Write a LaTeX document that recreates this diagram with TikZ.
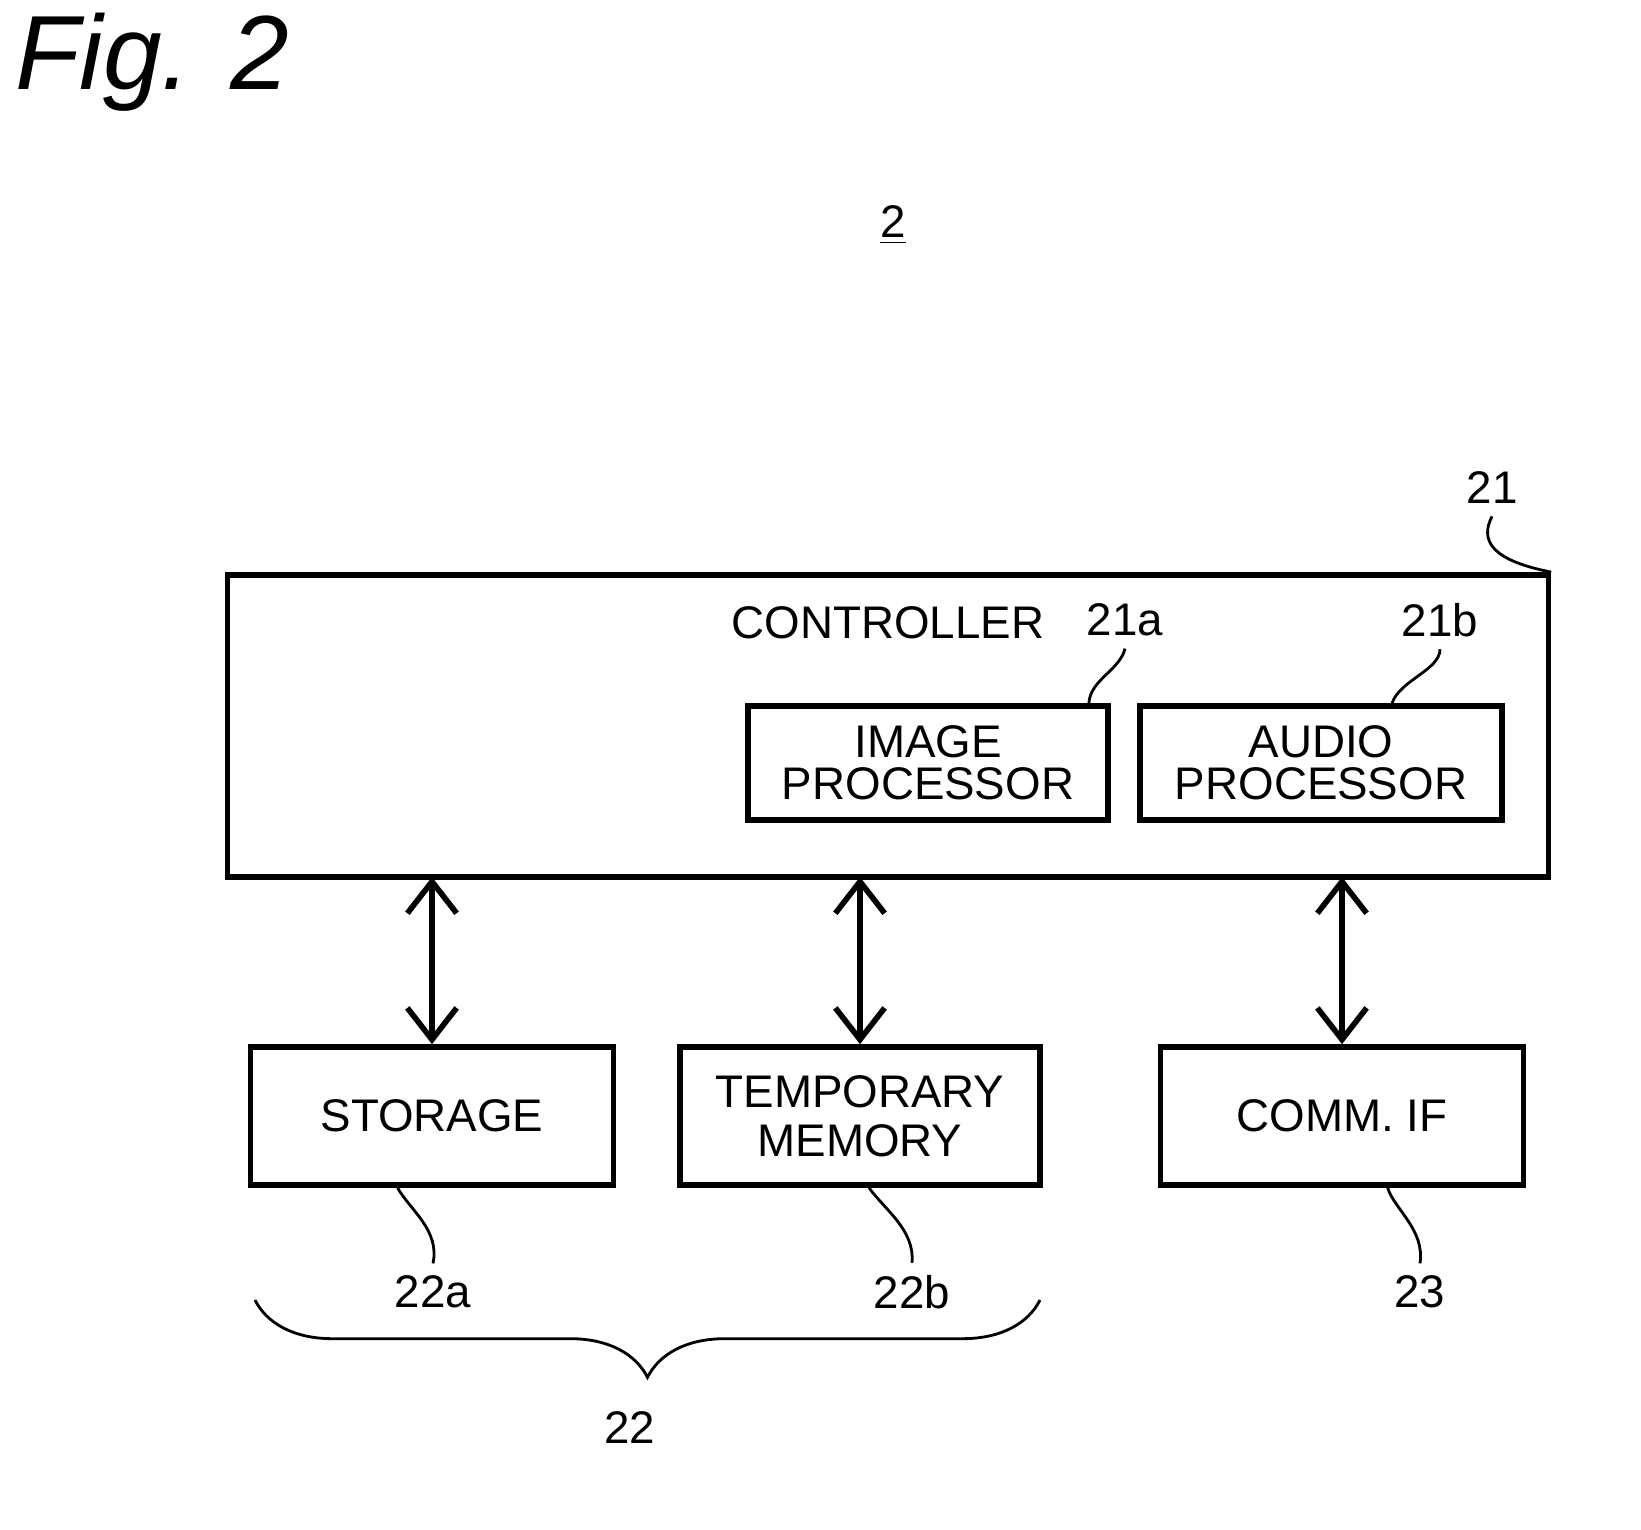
\documentclass[tikz,border=0pt]{standalone}
\usepackage{fontspec}
\setmainfont{Liberation Sans}
\usetikzlibrary{arrows.meta,calc,decorations.pathreplacing}
\begin{document}
\begin{tikzpicture}[x=0.01cm,y=-0.01cm,
  blk/.style={draw,line width=1.6pt,inner sep=0pt,align=center,font=\fontsize{13}{15}\selectfont},
  lbl/.style={font=\fontsize{13}{15}\selectfont},
  lead/.style={line width=0.8pt},
  bus/.style={line width=1.6pt,{Straight Barb[length=9pt,width=14pt,line width=1.6pt]}-{Straight Barb[length=9pt,width=14pt,line width=1.6pt]}}]
\useasboundingbox (0,0) rectangle (1641,1530);
\node[font=\itshape\fontsize{30}{33}\selectfont] (fig) at (152,62) {Fig. 2};
\node[lbl] (dev) at (893,225) {\underline{2}};
% controller
\node[blk,minimum width=13.20cm,minimum height=3.02cm] (ctrl) at (888,726) {};
\node[lbl] (ctrltxt) at (888,623) {CONTROLLER};
\node[blk,minimum width=3.60cm,minimum height=1.14cm] (img) at (928,763) {IMAGE\\[-3pt]PROCESSOR};
\node[blk,minimum width=3.62cm,minimum height=1.14cm] (aud) at (1321,763) {AUDIO\\[-3pt]PROCESSOR};
% lower blocks
\node[blk,minimum width=3.63cm,minimum height=1.38cm] (stor) at (432,1116) {STORAGE};
\node[blk,minimum width=3.60cm,minimum height=1.38cm] (tmp) at (860,1116) {TEMPORARY\\[-1pt]MEMORY};
\node[blk,minimum width=3.63cm,minimum height=1.38cm] (comm) at (1342,1116) {COMM. IF};
% buses
\foreach \b/\x in {stor/432,tmp/860,comm/1342}
  \draw[bus] (\x,877) -- (\b.north);
% reference numerals
\node[lbl] (n21) at (1492,488) {21};
\node[lbl] (n21a) at (1125,620) {21a};
\node[lbl] (n21b) at (1440,620) {21b};
\node[lbl] (n22a) at (433,1292) {22a};
\node[lbl] (n22b) at (912,1292) {22b};
\node[lbl] (n23) at (1420,1292) {23};
\node[lbl] (n22) at (630,1428) {22};
\draw[lead] (ctrl.north east) .. controls (1490,560) and (1480,540) .. (n21.south);
\draw[lead] ($(img.north east)+(-22,0)$) .. controls (1090,680) and (1120,670) .. (n21a.south);
\draw[lead] ($(aud.north west)+(255,0)$) .. controls (1400,680) and (1440,670) .. (n21b.south);
\draw[lead] ($(stor.south west)+(150,0)$) .. controls (410,1210) and (440,1230) .. (n22a.north);
\draw[lead] ($(tmp.south west)+(192,0)$) .. controls (885,1210) and (915,1230) .. (n22b.north);
\draw[lead] ($(comm.south west)+(230,0)$) .. controls (1395,1210) and (1425,1230) .. (n23.north);
\draw[lead,decorate,decoration={brace,amplitude=22pt,mirror}] (255,1300) -- (1040,1300);
\end{tikzpicture}
\end{document}
